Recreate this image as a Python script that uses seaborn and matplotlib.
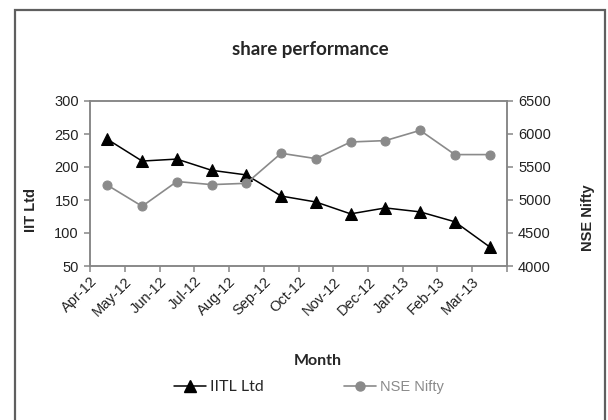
import matplotlib
matplotlib.use("Agg")
import matplotlib.pyplot as plt
from matplotlib.patches import Rectangle
from matplotlib.lines import Line2D
import numpy as np
import pandas as pd
import seaborn as sns

# monthly share data, Apr-12 .. Mar-13
months = ["Apr-12", "May-12", "Jun-12", "Jul-12", "Aug-12", "Sep-12",
          "Oct-12", "Nov-12", "Dec-12", "Jan-13", "Feb-13", "Mar-13"]
iitl = [242, 209, 212, 195, 188, 156, 147, 129, 138, 132, 117, 79]
nifty = [5225, 4905, 5280, 5233, 5253, 5708, 5627, 5879, 5900, 6055, 5688, 5688]

df = pd.DataFrame({"month": months, "pos": np.arange(len(months)),
                   "IITL Ltd": iitl, "NSE Nifty": nifty})

sns.set_style("white")
plt.rcParams["font.family"] = ["Liberation Sans", "DejaVu Sans"]

axis_grey = "#868686"
nifty_grey = "#8a8a8a"

fig = plt.figure(figsize=(6.08, 4.2), dpi=100)
ax = fig.add_axes([90 / 608, 1 - 266 / 420, 417 / 608, 165 / 420])
ax2 = ax.twinx()

sns.lineplot(data=df, x="pos", y="IITL Ltd", ax=ax, color="black",
             marker="^", markersize=9, linewidth=1.1, markeredgecolor="black")
sns.lineplot(data=df, x="pos", y="NSE Nifty", ax=ax2, color=nifty_grey,
             marker="o", markersize=6.5, linewidth=1.2, markeredgecolor=nifty_grey)

ax.set_xlim(-0.5, len(months) - 0.5)
ax.set_ylim(50, 300)
ax.set_yticks(np.arange(50, 301, 50))
ax2.set_ylim(4000, 6500)
ax2.set_yticks(np.arange(4000, 6501, 500))

# Excel-style: labels sit on the category boundaries
ax.set_xticks(np.arange(-0.5, len(months), 1.0))
ax.set_xticklabels(months + [""], rotation=45, ha="right",
                   rotation_mode="anchor", fontsize=10.5, color="#222222")
ax.set_xlabel("")
ax.set_ylabel("")
ax2.set_ylabel("")

for a in (ax, ax2):
    for s in a.spines.values():
        s.set_color(axis_grey)
        s.set_linewidth(1.1)
    a.tick_params(axis="both", length=4, width=1.1, color=axis_grey,
                  labelsize=10.5, labelcolor="#222222", direction="out")
ax.tick_params(axis="x", pad=2)
ax.tick_params(axis="y", pad=4)
ax2.tick_params(axis="y", pad=4)
ax.tick_params(left=True, bottom=True)
ax2.tick_params(right=True)

# text around the plot
fig.text(310 / 608, 1 - 49 / 420, "share performance", ha="center", va="center",
         fontsize=13.5, fontweight="bold", family=["Lato", "DejaVu Sans"])
fig.text(318 / 608, 1 - 361 / 420, "Month", ha="center", va="center",
         fontsize=11.5, fontweight="bold", family=["Lato", "DejaVu Sans"])
fig.text(31 / 608, 1 - 210 / 420, "IIT Ltd", ha="center", va="center",
         rotation=90, fontsize=10.5, fontweight="bold")
fig.text(588 / 608, 1 - 218 / 420, "NSE Nifty", ha="center", va="center",
         rotation=90, fontsize=10.5, fontweight="bold")

handles = [Line2D([], [], color="black", marker="^", markersize=9, linewidth=1.1),
           Line2D([], [], color=nifty_grey, marker="o", markersize=6.5, linewidth=1.2)]
leg = fig.legend(handles, ["IITL Ltd", "NSE Nifty"], loc="center",
                 bbox_to_anchor=(309 / 608, 1 - 387 / 420), ncol=2, frameon=False,
                 handlelength=2.2, handletextpad=0.3, columnspacing=5.5, fontsize=10.5)
leg.get_texts()[0].set_family(["Lato", "DejaVu Sans"])
leg.get_texts()[0].set_fontsize(11.5)
leg.get_texts()[1].set_color(nifty_grey)

# outer chart border (runs off the bottom edge)
fig.patches.append(Rectangle((15 / 608, -0.05), 590 / 608, 1 - 10 / 420 + 0.05,
                             transform=fig.transFigure, fill=False,
                             edgecolor="#5f5f5f", linewidth=1.6))

fig.savefig("out.png", dpi=100)
